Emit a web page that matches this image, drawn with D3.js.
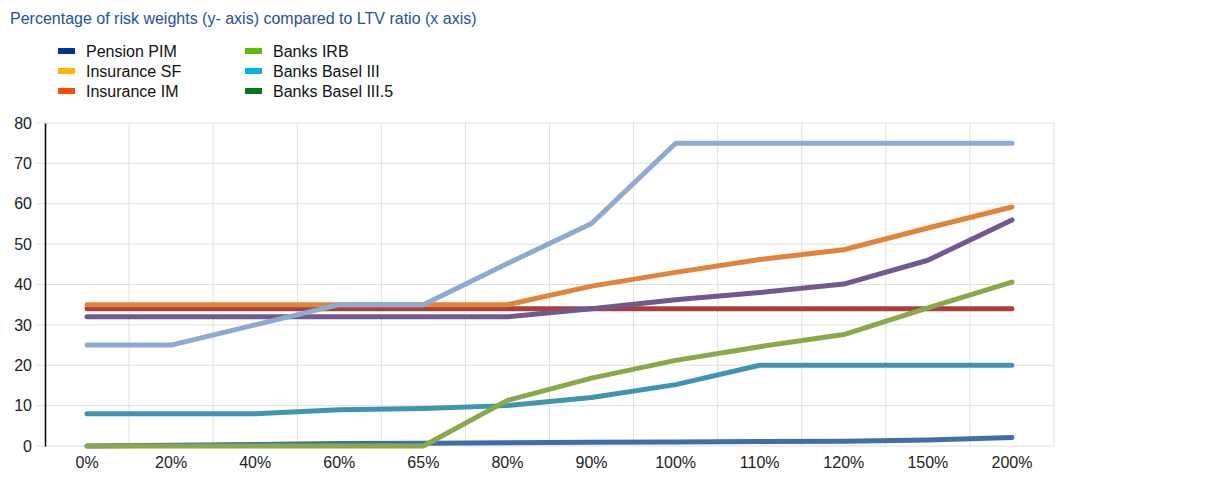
<!doctype html>
<html lang="en">
<head>
<meta charset="utf-8">
<script src="https://cdnjs.cloudflare.com/ajax/libs/d3/7.8.5/d3.min.js"></script>
<style>
  body { margin: 0; background: #fff; font-family: 'Liberation Sans', Arial, sans-serif; }
  .axis text { font-size: 16px; fill: #222; font-family: 'Liberation Sans', Arial, sans-serif; }
  .grid line { stroke: #e0e0e0; stroke-width: 1; }
</style>
</head>
<body>
<script>
// categories on the x axis (LTV ratio)
const categories = ["0%", "20%", "40%", "60%", "65%", "80%", "90%", "100%", "110%", "120%", "150%", "200%"];
const yTicks = [0, 10, 20, 30, 40, 50, 60, 70, 80];

// line values
const lightBlue = [25, 25, 30, 35, 35, 45.2, 55.1, 75, 75, 75, 75, 75];
const orange    = [35, 35, 35, 35, 35, 35, 39.6, 43, 46.2, 48.6, 54, 59.2];
const darkRed   = [34, 34, 34, 34, 34, 34, 34, 34, 34, 34, 34, 34];
const purple    = [32, 32, 32, 32, 32, 32, 34, 36.2, 38, 40.1, 46, 56];
const green     = [0, 0, 0, 0, 0, 11.3, 16.8, 21.2, 24.6, 27.6, 34.2, 40.6];
const teal      = [8, 8, 8, 9, 9.3, 10, 12, 15.2, 20, 20, 20, 20];
const steelBlue = [0, 0.2, 0.4, 0.6, 0.7, 0.8, 0.9, 1.0, 1.1, 1.2, 1.5, 2.1];

const lines = [
  { values: darkRed, color: "#a7403d" },
  { values: steelBlue, color: "#416da8" },
  { values: teal, color: "#3e95b0" },
  { values: green, color: "#8aa84a" },
  { values: purple, color: "#71588f" },
  { values: orange, color: "#e0843a" },
  { values: lightBlue, color: "#8faad0" }
];

// legend (as shown in the original)
const legendNames  = ["Pension PIM", "Insurance SF", "Insurance IM", "Banks IRB", "Banks Basel III", "Banks Basel III.5"];
const legendColors = ["#003299", "#ffb400", "#ff4b00", "#65b800", "#00b1ea", "#007816"];

const w = 1217, h = 493;
const plotLeft = 45, plotRight = 1054, plotTop = 123, plotBottom = 446;

const svg = d3.select("body").append("svg")
  .attr("width", w)
  .attr("height", h);

svg.append("text")
  .attr("x", 10)
  .attr("y", 24)
  .attr("fill", "#2450a8")
  .style("font-size", "16px")
  .text("Percentage of risk weights (y- axis) compared to LTV ratio (x axis)");

const xScale = d3.scaleBand().domain(categories).range([plotLeft, plotRight]);
const yScale = d3.scaleLinear().domain([0, 80]).range([plotBottom, plotTop]);

// gridlines
const grid = svg.append("g").attr("class", "grid");
grid.selectAll(".hg").data(yTicks).enter().append("line")
  .attr("x1", plotLeft - 8).attr("x2", plotRight)
  .attr("y1", d => yScale(d)).attr("y2", d => yScale(d));
grid.selectAll(".vg").data(categories.slice(1)).enter().append("line")
  .attr("x1", d => xScale(d)).attr("x2", d => xScale(d))
  .attr("y1", plotTop).attr("y2", plotBottom);
grid.append("line")
  .attr("x1", plotRight).attr("x2", plotRight)
  .attr("y1", plotTop).attr("y2", plotBottom);

// axes
const yAxis = svg.append("g")
  .attr("class", "axis")
  .attr("transform", "translate(" + plotLeft + ",0)")
  .call(d3.axisLeft(yScale).tickValues(yTicks).tickSize(0).tickPadding(13));
yAxis.select(".domain").attr("stroke", "#000").attr("stroke-width", 1.5);

const xAxis = svg.append("g")
  .attr("class", "axis")
  .attr("transform", "translate(0," + plotBottom + ")")
  .call(d3.axisBottom(xScale).tickSize(0).tickPadding(11));
xAxis.select(".domain").remove();

// lines
const line = d3.line()
  .x((d, i) => xScale(categories[i]) + xScale.bandwidth() / 2)
  .y(d => yScale(d));

svg.append("g").selectAll("path")
  .data(lines)
  .enter()
  .append("path")
  .attr("d", d => line(d.values))
  .attr("fill", "none")
  .attr("stroke", d => d.color)
  .attr("stroke-width", 5)
  .attr("stroke-linecap", "round")
  .attr("stroke-linejoin", "round");

// legend
const legend = svg.append("g").attr("id", "legend");
const items = legend.selectAll("g")
  .data(legendNames)
  .enter()
  .append("g")
  .attr("transform", (d, i) => "translate(" + (i < 3 ? 58 : 245) + "," + (51 + (i % 3) * 20) + ")");
items.append("rect")
  .attr("x", 0).attr("y", -3)
  .attr("width", 17).attr("height", 6)
  .attr("fill", (d, i) => legendColors[i]);
items.append("text")
  .attr("x", 28).attr("y", 6)
  .style("font-size", "16px")
  .attr("fill", "#111")
  .text(d => d);
</script>
</body>
</html>
